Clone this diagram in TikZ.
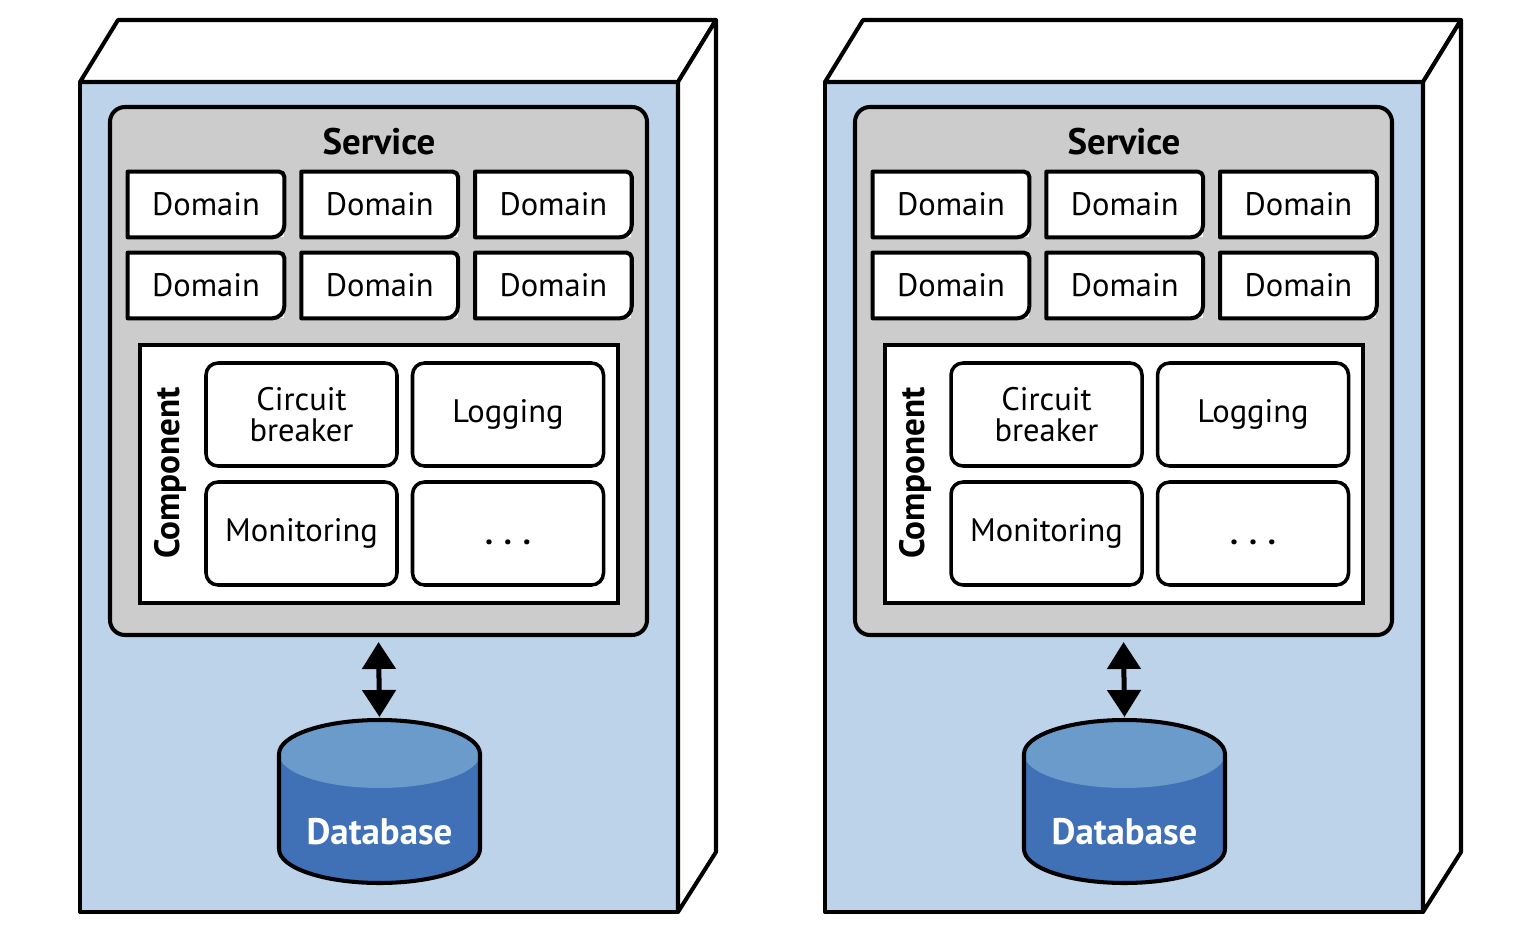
\documentclass[tikz,border=0pt]{standalone}
\usepackage{fontspec}
\setmainfont{PT Sans}
\usetikzlibrary{chains,positioning,arrows.meta}
\definecolor{serverblue}{RGB}{189,211,234}
\definecolor{servicegrey}{RGB}{204,204,204}
\definecolor{dbdark}{RGB}{64,112,181}
\definecolor{dblight}{RGB}{107,155,203}
\edef\boxline{2.3pt}
\tikzstyle{outline}=[draw=black,line width=\boxline,line join=round]
\tikzstyle{domainbox}=[fill=white,minimum width=3.12cm,minimum height=1.3cm,font=\fontsize{18.5}{21}\selectfont]
\tikzstyle{compbox}=[draw,line width=2pt,rounded corners=0.24cm,fill=white,minimum width=3.82cm,minimum height=2.06cm,align=center,font=\fontsize{18.5}{21}\selectfont]
\tikzstyle{dbarrow}=[line width=0.1cm,{Triangle[width=0.66cm,length=0.54cm]}-{Triangle[width=0.66cm,length=0.54cm]}]

\begin{document}
\begin{tikzpicture}
	\useasboundingbox (0,0) rectangle (30.8,-18.62);
	\foreach \s/\dx in {l/0,r/14.9}{
		\begin{scope}[xshift=\dx cm]
			% server box
			\draw[outline,fill=serverblue] (1.6,-1.64) rectangle (13.56,-18.24);
			\draw[outline,fill=white] (1.6,-1.64) -- (2.36,-0.4) -- (14.32,-0.4) -- (13.56,-1.64) -- cycle;
			\draw[outline,fill=white] (13.56,-1.64) -- (14.32,-0.4) -- (14.32,-17.04) -- (13.56,-18.24) -- cycle;

			\node[outline,fill=servicegrey,rounded corners=0.3cm,minimum width=10.74cm,minimum height=10.56cm] (\s-svc) at (7.57,-7.42) {};
			\node[font=\bfseries\fontsize{21}{24}\selectfont] (\s-svcTitle) at (7.58,-2.84) {Service};

			\begin{scope}[start chain=going right,node distance=0.34cm]
				\node[on chain,domainbox] (\s-dom1) at (4.12,-4.09) {Domain};
				\node[on chain,domainbox] (\s-dom2) {Domain};
				\node[on chain,domainbox] (\s-dom3) {Domain};
			\end{scope}
			\begin{scope}[start chain=going right,node distance=0.34cm]
				\node[on chain,domainbox] (\s-dom4) at (4.12,-5.71) {Domain};
				\node[on chain,domainbox] (\s-dom5) {Domain};
				\node[on chain,domainbox] (\s-dom6) {Domain};
			\end{scope}
			\foreach \d in {1,...,6}
				\draw[outline] (\s-dom\d.south west) -- (\s-dom\d.north west) -- ([xshift=-3pt]\s-dom\d.north east)
					arc[start angle=90,end angle=0,radius=3pt] -- ([yshift=7pt]\s-dom\d.south east)
					arc[start angle=0,end angle=-90,radius=7pt] -- cycle;

			\node[draw,line width=1.8pt,fill=white,minimum width=9.56cm,minimum height=5.16cm] (\s-comp) at (7.58,-9.48) {};
			\node[rotate=90,font=\bfseries\fontsize{20}{24}\selectfont] (\s-compLabel) at (3.4,-9.46) {Component};
			\node[compbox] (\s-breaker) at (6.03,-8.29) {Circuit\\[-3pt]breaker};
			\node[compbox] (\s-logging) at (10.16,-8.29) {Logging};
			\node[compbox] (\s-monitoring) at (6.03,-10.67) {Monitoring};
			\node[compbox] (\s-more) at (10.16,-10.67) {\vphantom{M}\textbf{.\,\,.\,\,.}};

			% database
			\fill[dbdark] (5.58,-15.08) -- (5.58,-16.98) arc[start angle=180,end angle=360,x radius=2.01cm,y radius=0.68cm]
				-- (9.6,-15.08) arc[start angle=0,end angle=180,x radius=2.01cm,y radius=0.68cm] -- cycle;
			\fill[dblight] (7.59,-15.08) ellipse[x radius=2.01cm,y radius=0.68cm];
			\draw[outline] (5.58,-16.98) -- (5.58,-15.08) arc[start angle=180,end angle=0,x radius=2.01cm,y radius=0.68cm]
				-- (9.6,-16.98) arc[start angle=0,end angle=-180,x radius=2.01cm,y radius=0.68cm];
			\coordinate (\s-dbTop) at (7.59,-14.4);
			\node[text=white,font=\bfseries\fontsize{21}{24}\selectfont] (\s-db) at (7.59,-16.64) {Database};

			\draw[dbarrow,shorten <=0.1cm,shorten >=0.06cm] (\s-svc.south) -- (\s-dbTop);
		\end{scope}
	}
\end{tikzpicture}
\end{document}
